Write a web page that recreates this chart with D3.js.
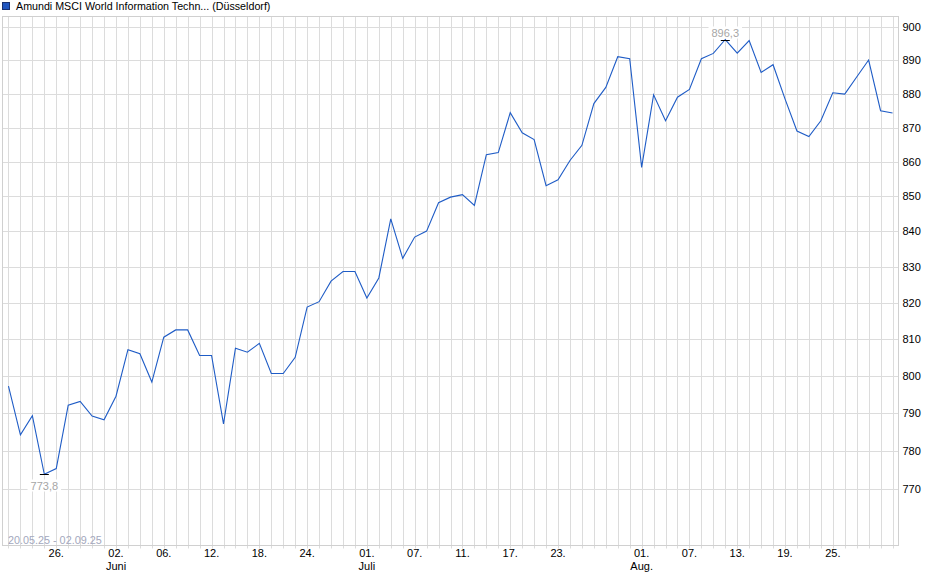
<!DOCTYPE html>
<html><head><meta charset="utf-8">
<script src="https://cdn.jsdelivr.net/npm/d3@7"></script>
<style>
body{margin:0;background:#fff}
svg{display:block}
text{font-family:"Liberation Sans",Arial,Helvetica,sans-serif;font-size:11px}
</style>
</head><body>
<svg id="c" width="940" height="579"></svg>
<script>
// ---- data ----
const dates = [
 "20.05","21.05","22.05","23.05","26.05","27.05","28.05","29.05","30.05",
 "02.06","03.06","04.06","05.06","06.06","09.06","10.06","11.06","12.06","13.06",
 "16.06","17.06","18.06","19.06","20.06","23.06","24.06","25.06","26.06","27.06","30.06",
 "01.07","02.07","03.07","04.07","07.07","08.07","09.07","10.07","11.07",
 "14.07","15.07","16.07","17.07","18.07","21.07","22.07","23.07","24.07","25.07",
 "28.07","29.07","30.07","31.07",
 "01.08","04.08","05.08","06.08","07.08","08.08","11.08","12.08","13.08","14.08","15.08",
 "18.08","19.08","20.08","21.08","22.08","25.08","26.08","27.08","28.08","29.08",
 "01.09"
];
const values = [
 797.2,784.2,789.3,773.8,775.3,792.1,793.1,789.2,788.2,
 794.5,807.1,806.0,798.3,810.5,812.5,812.5,805.5,805.5,787.1,
 807.5,806.4,808.8,800.6,800.6,805.0,818.8,820.3,826.0,828.7,828.7,
 821.3,826.9,843.6,832.4,838.4,840.1,848.2,849.8,850.5,
 847.4,862.1,862.7,874.4,868.5,866.5,853.1,854.8,860.4,864.8,
 877.1,881.9,891.1,890.5,
 858.4,879.7,872.0,879.0,881.3,890.5,892.1,896.3,892.2,896.0,886.4,
 888.7,878.5,869.0,867.4,872.0,880.3,879.9,885.0,890.1,875.0,
 874.3
];
const yTicks = [770,780,790,800,810,820,830,840,850,860,870,880,890,900];
const xTickDates = ["26.05","02.06","06.06","12.06","18.06","24.06","01.07","07.07","11.07","17.07","23.07","01.08","07.08","13.08","19.08","25.08"];
const monthDates = ["02.06","01.07","01.08"];
const monthNames = ["Juni","Juli","Aug."];
const title = "Amundi MSCI World Information Techn... (Düsseldorf)";
const rangeLabel = "20.05.25 - 02.09.25";

// ---- layout ----
const L = 2.5, R = 898.5, T = 16.5, B = 545.5;
const gridColor = "#dcdcdc";
const svg = d3.select("#c");

const x = d3.scaleBand().domain(dates).range([L, R]);
const cx = d => x(d) + x.bandwidth() / 2;
const y = d3.scaleLog().domain([755.4, 903.3]).range([B, T]);
const px = v => Math.round(v) + 0.5;

// vertical grid (every trading day, small ticks below the frame)
svg.append("g").selectAll("line").data(dates).join("line")
  .attr("x1", d => px(cx(d))).attr("x2", d => px(cx(d)))
  .attr("y1", T).attr("y2", B + 3)
  .attr("stroke", gridColor).attr("stroke-width", 1);

// horizontal grid
svg.append("g").selectAll("line").data(yTicks).join("line")
  .attr("x1", L).attr("x2", R)
  .attr("y1", d => px(y(d))).attr("y2", d => px(y(d)))
  .attr("stroke", gridColor).attr("stroke-width", 1);

// frame
svg.append("rect").attr("x", L).attr("y", T).attr("width", R - L).attr("height", B - T)
  .attr("fill", "none").attr("stroke", "#d0d0d0");

// range label
svg.append("text").attr("x", 8).attr("y", 543.5).attr("fill", "#a3a8bd")
  .style("font-size", "10.8px").text(rangeLabel);

// price line
svg.append("path").datum(values.map((v, i) => [dates[i], v]))
  .attr("fill", "none").attr("stroke", "#1f5cc6").attr("stroke-width", 1.1)
  .attr("d", d3.line().x(d => cx(d[0])).y(d => y(d[1])));

// min / max markers
const fmt = v => d3.format(".1f")(v).replace(".", ",");
const iMin = d3.minIndex(values), iMax = d3.maxIndex(values);
function marker(i, dyText) {
  const mx = cx(dates[i]), my = px(y(values[i]));
  const g = svg.append("g");
  const t = g.append("text").attr("x", mx).attr("y", my + dyText)
    .attr("text-anchor", "middle").attr("fill", "#a6a6a6").text(fmt(values[i]));
  const bb = t.node().getBBox();
  g.insert("rect", "text").attr("x", bb.x - 3).attr("y", bb.y).attr("width", bb.width + 6)
    .attr("height", bb.height).attr("fill", "#fff");
  svg.append("line").attr("x1", mx - 4.5).attr("x2", mx + 4.5).attr("y1", my).attr("y2", my)
    .attr("stroke", "#000").attr("stroke-width", 1);
}
marker(iMin, 15);
marker(iMax, -4);

// right axis
const ay = svg.append("g").attr("transform", `translate(${R},0)`)
  .call(d3.axisRight(y).tickValues(yTicks).tickSize(0).tickPadding(4).tickFormat(d3.format("d")));
ay.select(".domain").remove();
ay.selectAll("text").attr("fill", "#000").style("font-size", "11px")
  .style("font-family", '"Liberation Sans",Arial,sans-serif');

// bottom axis
const ax = svg.append("g").attr("transform", `translate(0,${B})`)
  .call(d3.axisBottom(x).tickValues(xTickDates).tickSize(0).tickPadding(3.8)
    .tickFormat(d => d.slice(0, 2) + "."));
ax.select(".domain").remove();
ax.selectAll("text").attr("fill", "#000").style("font-size", "11px")
  .style("font-family", '"Liberation Sans",Arial,sans-serif');

// month labels
svg.append("g").selectAll("text").data(monthDates).join("text")
  .attr("x", d => cx(d)).attr("y", 569.5).attr("text-anchor", "middle").attr("fill", "#000")
  .text((d, i) => monthNames[i]);

// title + legend square
svg.append("rect").attr("x", 2.5).attr("y", 2.5).attr("width", 7).attr("height", 7)
  .attr("fill", "#2157c0").attr("stroke", "#1a3270");
svg.append("text").attr("x", 16).attr("y", 10).attr("fill", "#000")
  .style("font-size", "10.7px").text(title);
</script>
</body></html>
